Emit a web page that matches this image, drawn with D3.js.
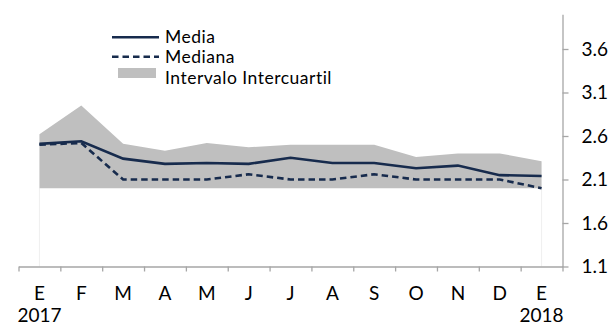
<!DOCTYPE html>
<html>
<head>
<meta charset="utf-8">
<script src="https://cdn.jsdelivr.net/npm/d3@7"></script>
<style>
  html, body { margin: 0; padding: 0; background: #fff; }
  svg { display: block; font-family: Lato, "Open Sans", sans-serif; }
</style>
</head>
<body>
<svg id="chart" width="608" height="326"></svg>
<script>
// ---- Data ----
const monthLabels = ["E","F","M","A","M","J","J","A","S","O","N","D","E"];
const yearLabels  = ["2017","","","","","","","","","","","","2018"];
const media   = [2.51, 2.54, 2.34, 2.28, 2.29, 2.28, 2.35, 2.29, 2.29, 2.23, 2.26, 2.15, 2.14];
const mediana = [2.50, 2.52, 2.10, 2.10, 2.10, 2.16, 2.10, 2.10, 2.16, 2.10, 2.10, 2.10, 2.00];
const q1      = [2.00, 2.00, 2.00, 2.00, 2.00, 2.00, 2.00, 2.00, 2.00, 2.00, 2.00, 2.00, 2.00];
const q3      = [2.62, 2.95, 2.51, 2.43, 2.52, 2.47, 2.50, 2.50, 2.50, 2.36, 2.40, 2.40, 2.31];
const yTicks  = [1.1, 1.6, 2.1, 2.6, 3.1, 3.6];
const legendItems = ["Media", "Mediana", "Intervalo Intercuartil"];

// ---- Layout ----
const svg = d3.select("#chart");
const plotLeft = 18.5, plotRight = 562.5, plotBottom = 266.5, plotTop = 14.2;
const lineColor = "#172b4d";
const axisColor = "#a6a6a6";
const fontSize = 19;
const legendFontSize = 17.5;

const idx = d3.range(monthLabels.length);
const x = d3.scaleBand().domain(idx).range([plotLeft, plotRight]).padding(0);
const cx = i => x(i) + x.bandwidth() / 2;
const xEdge = d3.scaleLinear().domain([0, monthLabels.length]).range([plotLeft, plotRight]);
const y = d3.scaleLinear().domain([1.1, 4.0]).range([plotBottom, plotTop]);

// faint edges of the invisible lower band
svg.append("g").selectAll("line")
  .data([0, monthLabels.length - 1])
  .join("line")
  .attr("x1", i => cx(i)).attr("x2", i => cx(i))
  .attr("y1", i => y(q1[i])).attr("y2", plotBottom)
  .attr("stroke", "#efefef").attr("stroke-width", 1);

// Interquartile area
const area = d3.area()
  .x(i => cx(i))
  .y0(i => y(q1[i]))
  .y1(i => y(q3[i]));
svg.append("path").datum(idx).attr("d", area).attr("fill", "#bfbfbf");

// Lines
const lineOf = arr => d3.line().x(i => cx(i)).y(i => y(arr[i]));
svg.append("path").datum(idx).attr("d", lineOf(mediana))
  .attr("fill", "none").attr("stroke", lineColor).attr("stroke-width", 2.6)
  .attr("stroke-dasharray", "6.5,4");
svg.append("path").datum(idx).attr("d", lineOf(media))
  .attr("fill", "none").attr("stroke", lineColor).attr("stroke-width", 2.6);

// X axis: line with ticks at band edges
const xAxisG = svg.append("g").attr("transform", `translate(0,${plotBottom})`)
  .call(d3.axisBottom(xEdge).tickValues(d3.range(monthLabels.length + 1))
    .tickFormat("").tickSizeInner(5).tickSizeOuter(0));
xAxisG.select(".domain").attr("stroke", axisColor).attr("stroke-width", 1.3);
xAxisG.selectAll(".tick line").attr("stroke", axisColor).attr("stroke-width", 1.3);

// Month labels
const lblG = svg.append("g").attr("transform", `translate(0,${plotBottom})`)
  .call(d3.axisBottom(x).tickSize(0).tickPadding(0).tickFormat(i => monthLabels[i]));
lblG.select(".domain").remove();
lblG.selectAll("text").attr("font-family", "Lato, sans-serif").attr("font-size", fontSize)
  .attr("fill", "#000").attr("dy", null).attr("y", 300 - plotBottom);
// Year labels
const yrG = svg.append("g").attr("transform", `translate(0,${plotBottom})`)
  .call(d3.axisBottom(x).tickSize(0).tickPadding(0).tickFormat(i => yearLabels[i]));
yrG.select(".domain").remove();
yrG.selectAll("text").attr("font-family", "Lato, sans-serif").attr("font-size", fontSize)
  .attr("fill", "#000").attr("dy", null).attr("y", 322 - plotBottom);

// Y axis on right
const yAxisG = svg.append("g").attr("transform", `translate(${plotRight},0)`)
  .call(d3.axisRight(y).tickValues(yTicks).tickSizeInner(6).tickSizeOuter(0)
    .tickPadding(13).tickFormat(d3.format(".1f")));
yAxisG.select(".domain").attr("stroke", axisColor).attr("stroke-width", 1.3);
yAxisG.selectAll(".tick line").attr("stroke", axisColor).attr("stroke-width", 1.3);
yAxisG.selectAll("text").attr("font-family", "Lato, sans-serif").attr("font-size", fontSize)
  .attr("fill", "#000");

// Legend
const lg = svg.append("g");
const lgY = [37.3, 56.7, 73];
const lgBase = [42.5, 63, 83.5];
lg.append("line").attr("x1", 112).attr("x2", 159).attr("y1", lgY[0]).attr("y2", lgY[0])
  .attr("stroke", lineColor).attr("stroke-width", 2.6);
lg.append("line").attr("x1", 112).attr("x2", 159).attr("y1", lgY[1]).attr("y2", lgY[1])
  .attr("stroke", lineColor).attr("stroke-width", 2.6).attr("stroke-dasharray", "6.5,4");
lg.append("rect").attr("x", 118).attr("y", 68).attr("width", 38).attr("height", 10)
  .attr("fill", "#bfbfbf");
lg.selectAll("text").data(legendItems).join("text")
  .attr("x", 165).attr("y", (d, i) => lgBase[i])
  .attr("font-family", "Lato, sans-serif").attr("font-size", legendFontSize)
  .attr("letter-spacing", 0.5).attr("fill", "#000")
  .text(d => d);
</script>
</body>
</html>
